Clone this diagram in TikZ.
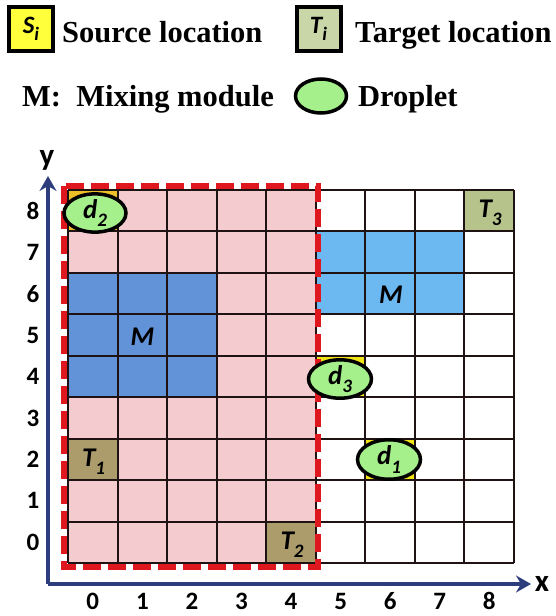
\documentclass[tikz,border=0pt]{standalone}
\usepackage{fontspec}
\setmainfont{Liberation Serif}
\newfontfamily\carlito{Carlito}
\usetikzlibrary{arrows.meta,shapes.geometric}

\definecolor{srcyellow}{RGB}{255,255,60}
\definecolor{cellyellow}{RGB}{240,228,20}
\definecolor{cornyellow}{RGB}{236,190,40}
\definecolor{tgtlegend}{RGB}{200,214,168}
\definecolor{tgtgreen}{RGB}{182,196,140}
\definecolor{tgtbrown}{RGB}{172,156,108}
\definecolor{zonepink}{RGB}{244,204,208}
\definecolor{mixdark}{RGB}{98,146,216}
\definecolor{mixlight}{RGB}{108,184,240}
\definecolor{dropgreen}{RGB}{166,240,140}
\definecolor{zonered}{RGB}{222,24,30}
\definecolor{axisblue}{RGB}{46,62,124}
\definecolor{gridline}{RGB}{30,18,18}

% cell (column, row) of the 9x9 array
\newcommand\cellbox[3]{\fill[#3] ({68+#1*49.56},{563-#2*41.44}) rectangle ++(49.56,-41.44);}
% bold italic label with a lowered index
\newcommand\sublab[2]{{\carlito\bfseries\itshape #1\raisebox{-0.3em}{\fontsize{19}{19}\selectfont #2}}}

\begin{document}
\begin{tikzpicture}[x=1pt,y=-1pt,
  legendtext/.style={font=\fontsize{30.5}{34}\selectfont\bfseries, anchor=base west, inner sep=0pt},
  keybox/.style={draw=black, line width=4pt, minimum width=44pt, minimum height=44pt, inner sep=0pt,
                 font=\fontsize{25}{25}\selectfont},
  drop/.style={ellipse, draw=black, line width=3.5pt, fill=dropgreen, inner sep=0pt,
               minimum width=62pt, minimum height=36pt, font=\fontsize{27}{27}\selectfont},
  celltext/.style={inner sep=0pt, font=\fontsize{27}{27}\selectfont},
  ticklab/.style={inner sep=0pt, font=\carlito\bfseries\fontsize{25}{25}\selectfont},
  axisline/.style={draw=axisblue, line width=3.5pt,
                   -{Stealth[length=15pt,width=17pt,inset=5pt]}},
  zoneframe/.style={draw=zonered, line width=6pt, dash pattern=on 18pt off 7pt},
]
\useasboundingbox (0,0) rectangle (555,616);

% ---- legend ----
\node[keybox, fill=srcyellow] (keyS) at (31,29) {\sublab{S}{i}};
\node[legendtext] (txtS) at (62,42) {Source location};
\node[keybox, fill=tgtlegend] (keyT) at (318.5,29) {\sublab{T}{i}};
\node[legendtext] (txtT) at (355,42) {Target location};
\node[legendtext] (txtM) at (22,106) {M:\ \ Mixing module};
\node[ellipse, draw=black, line width=3.5pt, fill=dropgreen, minimum width=51pt,
      minimum height=34pt, inner sep=0pt] (keyD) at (321,96) {};
\node[legendtext] (txtD) at (358,106) {Droplet};

% ---- cell fills ----
\fill[zonepink] (68,190) rectangle (315.8,563);
\fill[mixdark] (68,272.9) rectangle (216.7,397.2);
\fill[mixlight] (315.8,231.5) rectangle (464.5,314.4);
\cellbox{0}{2}{tgtbrown}
\cellbox{4}{0}{tgtbrown}
\cellbox{8}{8}{tgtgreen}
\cellbox{0}{8}{cornyellow}
\cellbox{5}{4}{cellyellow}
\cellbox{6}{2}{cellyellow}

% ---- grid ----
\foreach \i in {0,...,9}{
  \draw[gridline, line width=2pt] ({68+\i*49.56},190) -- ({68+\i*49.56},563);
  \draw[gridline, line width=2pt] (68,{190+\i*41.44}) -- (514,{190+\i*41.44});
}

% ---- partition frame ----
\draw[zoneframe] (64,186) rectangle (318,567);

% ---- axes ----
\coordinate (origin) at (48,584);
\coordinate (ytip) at (48,176);
\coordinate (xtip) at (531,584);
\draw[axisline] (origin) -- (ytip);
\draw[axisline] (origin) -- (xtip);
\node[ticklab, font=\carlito\bfseries\fontsize{31}{31}\selectfont] (ylab) at (47,160) {y};
\node[ticklab, font=\carlito\bfseries\fontsize{31}{31}\selectfont] (xlab) at (542,584) {x};
\foreach \k in {0,...,8}{
  \node[ticklab] (xt\k) at ({92.8+\k*49.56},601) {\k};
  \node[ticklab] (yt\k) at (33,{542.3-\k*41.44}) {\k};
}

% ---- labels in cells ----
\node[celltext] (mixL) at (142.4,337) {\carlito\bfseries\itshape M};
\node[celltext] (mixR) at (391,295) {\carlito\bfseries\itshape M};
\node[celltext] (tgt1) at (93.5,462) {\sublab{T}{1}};
\node[celltext] (tgt2) at (292,545) {\sublab{T}{2}};
\node[celltext] (tgt3) at (490,213) {\sublab{T}{3}};

% ---- droplets ----
\node[drop, minimum width=62pt, minimum height=38pt] (d2) at (95,213) {\sublab{d}{2}};
\node[drop, minimum width=63pt, minimum height=35pt] (d3) at (340,379) {\sublab{d}{3}};
\node[drop, minimum width=63pt, minimum height=39.5pt] (d1) at (389,459.5) {\sublab{d}{1}};
\end{tikzpicture}
\end{document}
